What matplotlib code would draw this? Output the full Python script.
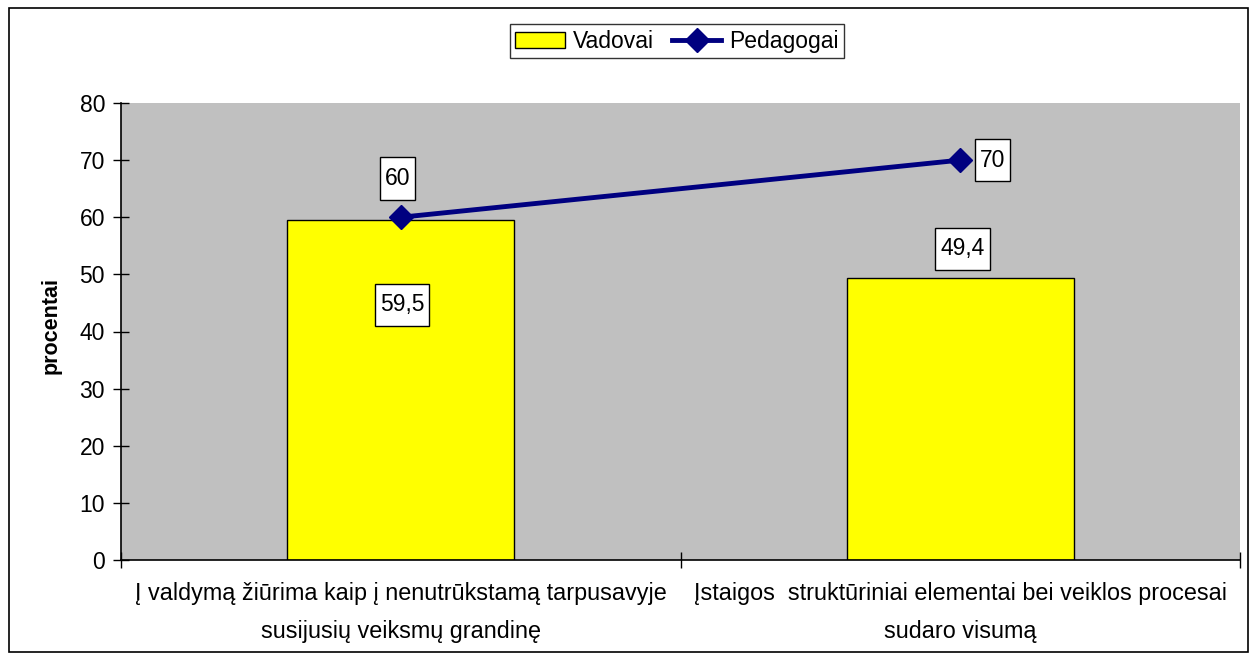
import matplotlib.pyplot as plt
from matplotlib.patches import Rectangle
from matplotlib.path import Path

plt.rcParams['font.family'] = ['Liberation Sans', 'DejaVu Sans']

# data
categories = ['Į valdymą žiūrima kaip į nenutrūkstamą tarpusavyje\nsusijusių veiksmų grandinę',
              'Įstaigos  struktūriniai elementai bei veiklos procesai\nsudaro visumą']
vadovai = [59.5, 49.4]
pedagogai = [60, 70]
vadovai_labels = ['59,5', '49,4']
pedagogai_labels = ['60', '70']


# label box: narrow on the sides, taller above and below the text
def tall_box(x0, y0, width, height, mutation_size):
    px = 0.22 * mutation_size
    py = 0.42 * mutation_size
    x1, y1 = x0 + width + px, y0 + height + py
    x0, y0 = x0 - px, y0 - py
    return Path([(x0, y0), (x1, y0), (x1, y1), (x0, y1), (x0, y0)], closed=True)


fig = plt.figure(figsize=(12.51, 6.6), dpi=100)
ax = fig.add_axes([121 / 1251, 100 / 660, 1119 / 1251, 457 / 660])

# outer border of the chart area
fig.patches.append(Rectangle((9 / 1251, 8 / 660), 1239 / 1251, 644 / 660,
                             transform=fig.transFigure, fill=False,
                             edgecolor='black', linewidth=1.2))

ax.set_facecolor('#c0c0c0')
x = range(len(categories))
bars = ax.bar(x, vadovai, width=0.405, color='#ffff00', edgecolor='black',
              linewidth=1, label='Vadovai', zorder=2)
line, = ax.plot(x, pedagogai, color='#000080', linewidth=3.5, marker='D', markersize=12,
                label='Pedagogai', zorder=3)

box = dict(boxstyle=tall_box, facecolor='white', edgecolor='black', linewidth=1)
fs = 16.5
# bar labels
ax.text(0.002, 44.7, vadovai_labels[0], ha='center', va='center', fontsize=fs, bbox=box, zorder=4)
ax.text(1.004, 54.5, vadovai_labels[1], ha='center', va='center', fontsize=fs, bbox=box, zorder=4)
# line labels
ax.text(-0.006, 66.8, pedagogai_labels[0], ha='center', va='center', fontsize=fs, bbox=box, zorder=4)
ax.text(1.058, 70, pedagogai_labels[1], ha='center', va='center', fontsize=fs, bbox=box, zorder=4)

ax.set_xlim(-0.5, 1.5)
ax.set_ylim(0, 80)
ax.set_yticks(range(0, 81, 10))
ax.set_xticks([-0.5, 0.5, 1.5])
ax.set_xticklabels(['', '', ''])
ax.set_xticks([0, 1], minor=True)
ax.set_xticklabels(categories, minor=True, fontsize=16.8, linespacing=1.8)
ax.tick_params(axis='x', which='minor', length=0, pad=16)
ax.tick_params(axis='x', which='major', length=11, direction='inout', width=1)
ax.tick_params(axis='y', labelsize=fs, length=11, direction='inout', width=1, pad=6)

for side in ['top', 'right']:
    ax.spines[side].set_visible(False)
ax.spines['left'].set_linewidth(1.2)
ax.spines['bottom'].set_linewidth(1.2)

ax.set_ylabel('procentai', fontsize=15.5, fontweight='bold')
ax.yaxis.set_label_coords(-0.0527, 0.514)

fig.legend(handles=[bars, line], labels=['Vadovai', 'Pedagogai'],
           loc='upper center', bbox_to_anchor=(677 / 1251, 1 - 24 / 660), ncol=2,
           fontsize=fs, frameon=True, fancybox=False, edgecolor='black',
           handlelength=2.15, handletextpad=0.35, columnspacing=0.8, borderpad=0.25,
           borderaxespad=0)

fig.savefig('out.png', dpi=100)
